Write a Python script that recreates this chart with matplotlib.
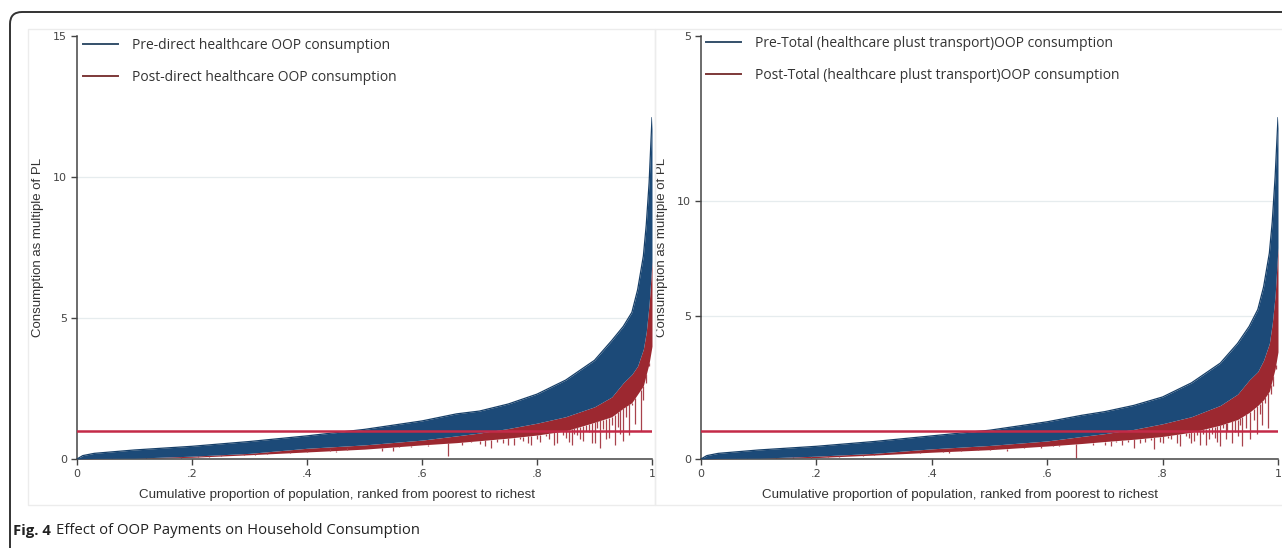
import matplotlib
matplotlib.use("Agg")
import matplotlib.pyplot as plt
import numpy as np
from matplotlib.patches import FancyBboxPatch
from matplotlib.lines import Line2D

# Pen's parade: households ranked by consumption (multiple of poverty line)
x_env = [0.0, 0.01, 0.03, 0.1, 0.2, 0.3, 0.4, 0.5, 0.6, 0.66, 0.7, 0.75, 0.8,
         0.85, 0.9, 0.93, 0.95, 0.965, 0.975, 0.985, 0.99, 0.995, 1.0]

# left panel: direct healthcare OOP
pre_top_l = [0.0, 0.12, 0.2, 0.32, 0.45, 0.62, 0.82, 1.05, 1.35, 1.6, 1.7, 1.95, 2.3,
             2.8, 3.5, 4.2, 4.7, 5.2, 6.0, 7.2, 8.3, 9.8, 12.1]
pre_low_l = [0.0, 0.01, 0.02, 0.03, 0.1, 0.2, 0.38, 0.5, 0.67, 0.82, 0.92, 1.08, 1.27,
             1.5, 1.85, 2.2, 2.7, 3.0, 3.3, 3.9, 4.5, 5.5, 7.0]
post_low_l = [0.0, 0.0, 0.01, 0.02, 0.06, 0.15, 0.25, 0.35, 0.5, 0.58, 0.65, 0.74, 0.85,
              1.0, 1.3, 1.5, 1.8, 2.0, 2.3, 2.6, 3.0, 3.4, 4.0]

spike_x_l = [0.02, 0.06, 0.09, 0.12, 0.15, 0.18, 0.21, 0.23, 0.25, 0.27, 0.29, 0.31,
             0.33, 0.35, 0.37, 0.38, 0.4, 0.42, 0.44, 0.45, 0.47, 0.48, 0.5, 0.52,
             0.53, 0.55, 0.56, 0.58, 0.6, 0.61, 0.63, 0.645, 0.66, 0.67, 0.685, 0.70,
             0.71, 0.72, 0.73, 0.74, 0.75, 0.76, 0.77, 0.775, 0.785, 0.79, 0.8, 0.805,
             0.815, 0.82, 0.83, 0.835, 0.845, 0.85, 0.855, 0.86, 0.865, 0.87, 0.875,
             0.88, 0.885, 0.89, 0.895, 0.90, 0.905, 0.91, 0.915, 0.92, 0.925, 0.93,
             0.935, 0.94, 0.945, 0.95, 0.955, 0.96, 0.965, 0.97, 0.975, 0.98, 0.985,
             0.99, 0.995]
spike_lo_l = [0.02, 0.05, 0.04, 0.06, 0.05, 0.08, 0.09, 0.1, 0.14, 0.12, 0.16, 0.15,
              0.2, 0.2, 0.26, 0.22, 0.3, 0.28, 0.35, 0.25, 0.38, 0.33, 0.36, 0.38,
              0.28, 0.3, 0.45, 0.42, 0.48, 0.45, 0.52, 0.1, 0.55, 0.5, 0.6, 0.52,
              0.45, 0.4, 0.62, 0.58, 0.5, 0.5, 0.7, 0.65, 0.55, 0.48, 0.72, 0.6,
              0.8, 0.72, 0.5, 0.55, 0.85, 0.75, 0.6, 0.5, 0.9, 0.85, 0.7,
              0.65, 1.0, 0.95, 0.55, 0.55, 1.1, 0.4, 1.05, 0.7, 0.75, 1.2,
              0.5, 1.15, 0.9, 0.65, 1.5, 0.85, 1.9, 1.25, 2.3, 1.0, 2.1,
              2.7, 3.3]

# right panel: total (healthcare plus transport) OOP
pre_top_r = [0.0, 0.12, 0.2, 0.32, 0.45, 0.62, 0.82, 1.02, 1.32, 1.55, 1.68, 1.9, 2.2,
             2.7, 3.4, 4.1, 4.7, 5.3, 6.1, 7.3, 8.4, 10.0, 12.1]
pre_low_r = [0.0, 0.01, 0.02, 0.03, 0.1, 0.2, 0.36, 0.48, 0.64, 0.8, 0.9, 1.05, 1.25,
             1.5, 1.9, 2.3, 2.8, 3.1, 3.5, 4.1, 4.8, 5.8, 7.5]
post_low_r = [0.0, 0.0, 0.01, 0.02, 0.05, 0.14, 0.24, 0.33, 0.46, 0.55, 0.62, 0.7, 0.8,
              0.95, 1.2, 1.4, 1.65, 1.9, 2.1, 2.4, 2.8, 3.2, 3.8]

spike_x_r = [0.03, 0.06, 0.08, 0.11, 0.13, 0.16, 0.19, 0.22, 0.24, 0.26, 0.28, 0.3,
             0.32, 0.34, 0.36, 0.38, 0.4, 0.42, 0.43, 0.45, 0.46, 0.48, 0.5, 0.51,
             0.53, 0.55, 0.56, 0.58, 0.59, 0.61, 0.62, 0.64, 0.65, 0.67, 0.68, 0.7,
             0.71, 0.72, 0.73, 0.74, 0.75, 0.76, 0.77, 0.78, 0.785, 0.795, 0.8, 0.81,
             0.815, 0.825, 0.83, 0.84, 0.845, 0.85, 0.855, 0.86, 0.865, 0.87, 0.875,
             0.88, 0.885, 0.89, 0.895, 0.9, 0.905, 0.91, 0.912, 0.92, 0.925, 0.93,
             0.935, 0.938, 0.945, 0.952, 0.958, 0.963, 0.968, 0.973, 0.978, 0.983,
             0.988, 0.992, 0.996]
spike_lo_r = [0.02, 0.03, 0.05, 0.05, 0.07, 0.08, 0.09, 0.1, 0.11, 0.12, 0.14, 0.16,
              0.18, 0.17, 0.2, 0.24, 0.25, 0.28, 0.2, 0.33, 0.3, 0.36, 0.35, 0.4,
              0.3, 0.38, 0.4, 0.44, 0.38, 0.5, 0.45, 0.52, 0.05, 0.55, 0.48, 0.5,
              0.45, 0.6, 0.5, 0.62, 0.4, 0.55, 0.6, 0.68, 0.35, 0.62, 0.55, 0.75,
              0.7, 0.58, 0.45, 0.8, 0.75, 0.55, 0.65, 0.85, 0.5, 0.9, 0.5,
              0.7, 0.9, 0.75, 0.6, 0.45, 1.1, 0.7, 1.0, 0.55, 0.95, 0.8,
              1.2, 0.45, 1.1, 0.7, 1.4, 0.9, 1.6, 1.2, 2.0, 1.1, 2.3,
              2.6, 3.2]

poverty_line = 1.0
xticks = [0, 0.2, 0.4, 0.6, 0.8, 1.0]
xtick_labels = ["0", ".2", ".4", ".6", ".8", "1"]
yticks_l = [0, 5, 10, 15]
ytick_labels_l = ["0", "5", "10", "15"]
yticks_r = [0, 5.07, 9.15, 15]
ytick_labels_r = ["0", "5", "10", "5"]

labels_l = ["Pre-direct healthcare OOP consumption",
            "Post-direct healthcare OOP consumption"]
labels_r = ["Pre-Total (healthcare plust transport)OOP consumption",
            "Post-Total (healthcare plust transport)OOP consumption"]

BLUE = "#1c4a78"
RED = "#9c2830"
SPIKE = "#a8424c"
PL = "#c42a48"

W, H = 1282, 548
fig = plt.figure(figsize=(W / 100, H / 100), dpi=100)
fig.patch.set_facecolor("white")

# outer rounded frame
fig.add_artist(FancyBboxPatch((10, -30), 1320, H - 12 + 30,
                              boxstyle="round,pad=0,rounding_size=12",
                              transform=None, fill=False, edgecolor="#333333",
                              linewidth=1.4))
# faint stata graph regions
for x0, x1 in [(28, 655), (655, 1300)]:
    fig.add_artist(plt.Rectangle((x0, H - 505), x1 - x0, 505 - 29, transform=None,
                                 fill=False, edgecolor="#ececec", linewidth=1))


def panel(rect, top, low, post, sx, slo, yt, ytl, labels, leg_xy, xlab_cx):
    ax = fig.add_axes(rect)
    xe = np.array(x_env)
    ax.fill_between(xe, post, low, color=RED, linewidth=0, zorder=2)
    lows = np.interp(sx, xe, post)
    ax.vlines(sx, slo, lows, color=SPIKE, linewidth=0.9, zorder=2)
    ax.fill_between(xe, low, top, color=BLUE, linewidth=0, zorder=3)
    ax.plot(xe, top, color="#173f68", linewidth=0.9, zorder=3)
    ax.axhline(poverty_line, color=PL, linewidth=1.8, zorder=4)
    ax.set_xlim(0, 1)
    ax.set_ylim(0, 15)
    ax.set_xticks(xticks)
    ax.set_xticklabels(xtick_labels)
    ax.set_yticks(yt)
    ax.set_yticklabels(ytl)
    for g in yt[1:3]:
        ax.axhline(g, color="#e6ecee", linewidth=0.9, zorder=1)
    for s in ["top", "right"]:
        ax.spines[s].set_visible(False)
    for s in ["left", "bottom"]:
        ax.spines[s].set_color("#444444")
        ax.spines[s].set_linewidth(1.1)
    ax.tick_params(direction="out", length=4, width=1, color="#444444",
                   labelsize=8, labelcolor="#444444", pad=3)
    ax.set_xlabel("Cumulative proportion of population, ranked from poorest to richest",
                  fontsize=9.6, color="#333333", family="Liberation Sans")
    ax.xaxis.set_label_coords(xlab_cx, -0.072)
    ax.set_ylabel("Consumption as multiple of PL", fontsize=9.5, color="#333333",
                  family="Liberation Sans", labelpad=7)
    handles = [Line2D([], [], color="#34506a", linewidth=1.4),
               Line2D([], [], color="#7d3838", linewidth=1.4)]
    fig.legend(handles, labels, loc="upper left",
               bbox_to_anchor=(leg_xy[0] / W, 1 - leg_xy[1] / H),
               frameon=False, borderpad=0, borderaxespad=0,
               handlelength=2.5, handletextpad=1.05, labelspacing=1.25,
               prop={"family": "Open Sans", "size": 10}, labelcolor="#333333")
    return ax


panel([77 / W, 1 - 459 / H, 575 / W, 423 / H], pre_top_l, pre_low_l, post_low_l,
      spike_x_l, spike_lo_l, yticks_l, ytick_labels_l, labels_l, (83, 38),
      (337 - 77) / 575)
panel([701 / W, 1 - 459 / H, 577 / W, 423 / H], pre_top_r, pre_low_r, post_low_r,
      spike_x_r, spike_lo_r, yticks_r, ytick_labels_r, labels_r, (706, 36),
      (960 - 701) / 577)

fig.text(13 / W, 1 - 531 / H, "Fig. 4", fontsize=10.7, fontweight="bold",
         family="Open Sans", va="center", color="#222222")
fig.text(56 / W, 1 - 531 / H, "Effect of OOP Payments on Household Consumption",
         fontsize=10.7, family="Open Sans", va="center", color="#222222")

fig.savefig("out.png", dpi=100, facecolor="white")
